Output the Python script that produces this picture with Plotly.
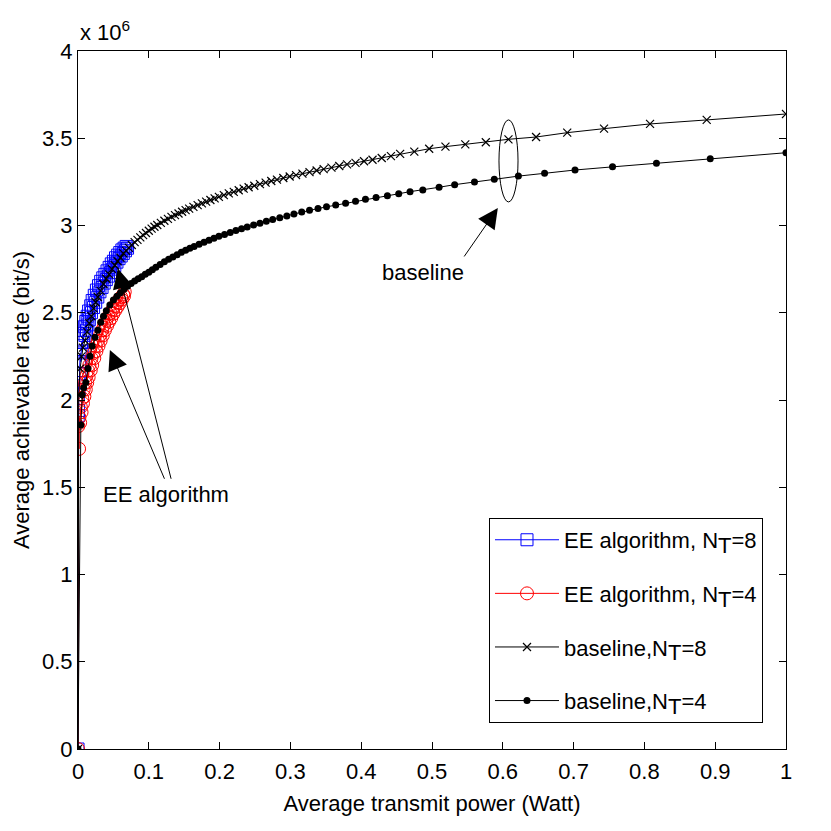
import plotly.graph_objects as go

# ---------------- data (rates in units of 1e6 bit/s) ----------------
ee8_power = [0, 0.0003, 0.0005, 0.0008, 0.001, 0.0015, 0.002, 0.0025, 0.003, 0.004, 0.005, 0.006,
             0.007, 0.008, 0.009, 0.010, 0.011, 0.012, 0.013, 0.014, 0.015, 0.016, 0.018, 0.019,
             0.020, 0.022, 0.023, 0.025, 0.026, 0.028, 0.029, 0.031, 0.032, 0.034, 0.035, 0.037,
             0.038, 0.040, 0.041, 0.043, 0.044, 0.046, 0.047, 0.049, 0.050, 0.052, 0.053, 0.055,
             0.056, 0.058, 0.059, 0.061, 0.062, 0.064, 0.065, 0.067, 0.068, 0.070]
ee8_rate = [0, 1.91, 2.03, 1.94, 2.10, 2.06, 2.22, 2.15, 2.27, 2.22, 2.33, 2.28,
            2.38, 2.33, 2.42, 2.37, 2.45, 2.40, 2.48, 2.43, 2.51, 2.46, 2.54, 2.50,
            2.57, 2.53, 2.60, 2.56, 2.63, 2.59, 2.655, 2.62, 2.68, 2.645, 2.70, 2.67,
            2.72, 2.69, 2.74, 2.71, 2.76, 2.73, 2.78, 2.75, 2.795, 2.77, 2.815, 2.79,
            2.83, 2.81, 2.845, 2.825, 2.86, 2.84, 2.87, 2.855, 2.88, 2.87]

ee4_power = [0, 0.0005, 0.0015, 0.002, 0.003, 0.004, 0.005, 0.006, 0.007, 0.008, 0.009, 0.010,
             0.011, 0.012, 0.013, 0.014, 0.015, 0.016, 0.018, 0.019, 0.020, 0.022, 0.023, 0.025,
             0.026, 0.028, 0.029, 0.031, 0.032, 0.034, 0.035, 0.037, 0.038, 0.040, 0.041, 0.043,
             0.044, 0.046, 0.047, 0.049, 0.050, 0.052, 0.053, 0.055, 0.056, 0.058, 0.059, 0.061,
             0.062, 0.064, 0.065, 0.066]
ee4_rate = [0, 1.85, 1.72, 1.90, 1.87, 1.96, 1.93, 2.01, 1.98, 2.06, 2.02, 2.10,
            2.06, 2.14, 2.10, 2.17, 2.13, 2.20, 2.17, 2.24, 2.20, 2.27, 2.24, 2.31,
            2.28, 2.34, 2.31, 2.37, 2.34, 2.40, 2.37, 2.43, 2.40, 2.455, 2.425, 2.48,
            2.45, 2.50, 2.47, 2.52, 2.495, 2.54, 2.515, 2.56, 2.535, 2.575, 2.555, 2.59,
            2.575, 2.605, 2.595, 2.62]

base8_power = [0, 0.001, 0.003, 0.005, 0.007, 0.010, 0.013, 0.016, 0.019, 0.022, 0.025, 0.028,
               0.032, 0.036, 0.040, 0.044, 0.048, 0.052, 0.056, 0.060, 0.064, 0.068, 0.072, 0.076,
               0.080, 0.084, 0.088, 0.092, 0.096, 0.100, 0.104, 0.108, 0.112, 0.117, 0.122, 0.127,
               0.132, 0.137, 0.142, 0.147, 0.152, 0.157, 0.163, 0.169, 0.175, 0.181, 0.187, 0.193,
               0.199, 0.206, 0.213, 0.220, 0.227, 0.234, 0.241, 0.249, 0.257, 0.265, 0.273, 0.281,
               0.290, 0.299, 0.308, 0.317, 0.327, 0.337, 0.347, 0.358, 0.369, 0.380, 0.392, 0.404,
               0.416, 0.429, 0.442, 0.455, 0.475, 0.496, 0.519, 0.547, 0.576, 0.608, 0.647, 0.691,
               0.743, 0.808, 0.888, 1.0]
base8_rate = [0, 2.03, 2.18, 2.25, 2.30, 2.34, 2.39, 2.44, 2.48, 2.525, 2.56, 2.59,
              2.625, 2.665, 2.695, 2.72, 2.75, 2.772, 2.795, 2.815, 2.84, 2.855, 2.872, 2.888,
              2.905, 2.918, 2.932, 2.945, 2.957, 2.97, 2.982, 2.993, 3.003, 3.015, 3.027, 3.038,
              3.049, 3.059, 3.069, 3.079, 3.088, 3.097, 3.107, 3.117, 3.127, 3.137, 3.146, 3.155,
              3.164, 3.174, 3.184, 3.193, 3.202, 3.211, 3.219, 3.228, 3.237, 3.246, 3.255, 3.263,
              3.272, 3.281, 3.289, 3.297, 3.306, 3.315, 3.323, 3.332, 3.341, 3.35, 3.359, 3.368,
              3.377, 3.387, 3.398, 3.41, 3.423, 3.44, 3.452, 3.465, 3.477, 3.494, 3.507, 3.532,
              3.555, 3.582, 3.605, 3.639]

base4_power = [0, 0.004, 0.006, 0.008, 0.011, 0.014, 0.017, 0.020, 0.024, 0.028, 0.032, 0.036,
               0.040, 0.045, 0.050, 0.055, 0.060, 0.065, 0.070, 0.075, 0.080, 0.085, 0.090, 0.095,
               0.100, 0.105, 0.110, 0.116, 0.122, 0.128, 0.134, 0.140, 0.146, 0.152, 0.158, 0.164,
               0.171, 0.178, 0.185, 0.192, 0.199, 0.207, 0.215, 0.223, 0.231, 0.239, 0.248, 0.257,
               0.266, 0.275, 0.285, 0.295, 0.305, 0.316, 0.327, 0.339, 0.351, 0.364, 0.378, 0.392,
               0.406, 0.421, 0.437, 0.453, 0.469, 0.487, 0.510, 0.532, 0.560, 0.588, 0.622, 0.659,
               0.702, 0.755, 0.817, 0.893, 1.0]
base4_rate = [0, 1.857, 2.03, 2.07, 2.10, 2.18, 2.25, 2.31, 2.36, 2.40, 2.445, 2.48,
              2.512, 2.545, 2.573, 2.595, 2.615, 2.635, 2.652, 2.668, 2.682, 2.695, 2.707, 2.72,
              2.732, 2.747, 2.761, 2.777, 2.792, 2.806, 2.82, 2.833, 2.846, 2.858, 2.869, 2.88,
              2.892, 2.904, 2.916, 2.927, 2.938, 2.949, 2.96, 2.971, 2.981, 2.992, 3.003, 3.013,
              3.024, 3.034, 3.045, 3.055, 3.066, 3.077, 3.087, 3.097, 3.107, 3.117, 3.128, 3.139,
              3.15, 3.161, 3.171, 3.182, 3.194, 3.204, 3.219, 3.234, 3.25, 3.265, 3.283, 3.299,
              3.318, 3.336, 3.357, 3.382, 3.417]

x_ticks = [0, 0.1, 0.2, 0.3, 0.4, 0.5, 0.6, 0.7, 0.8, 0.9, 1]
x_tick_labels = ['0', '0.1', '0.2', '0.3', '0.4', '0.5', '0.6', '0.7', '0.8', '0.9', '1']
y_ticks = [0, 0.5e6, 1e6, 1.5e6, 2e6, 2.5e6, 3e6, 3.5e6, 4e6]
y_tick_labels = ['0', '0.5', '1', '1.5', '2', '2.5', '3', '3.5', '4']

SCALE = 1e6
FONT = "Liberation Sans, Arial, sans-serif"
FS = 22

def sc(v):
    return [a * SCALE for a in v]

def nt(k):
    return 'N<sub><span style="font-size:%dpx">T</span></sub>=%s' % (FS, k)

fig = go.Figure()
fig.add_trace(go.Scatter(x=ee8_power, y=sc(ee8_rate), mode='lines+markers',
                         name='EE algorithm, ' + nt('8'), legendgroup='a',
                         line=dict(color='#0000ff', width=1),
                         marker=dict(symbol='square-open', size=12, color='#0000ff', line=dict(width=1))))
fig.add_trace(go.Scatter(x=ee4_power, y=sc(ee4_rate), mode='lines+markers',
                         name='EE algorithm, ' + nt('4'), legendgroup='b',
                         line=dict(color='#ff0000', width=1),
                         marker=dict(symbol='circle-open', size=13, color='#ff0000', line=dict(width=1))))
fig.add_trace(go.Scatter(x=base8_power, y=sc(base8_rate), mode='lines+markers',
                         name='baseline,' + nt('8'), legendgroup='c',
                         line=dict(color='black', width=1),
                         marker=dict(symbol='x-thin-open', size=8, color='black', line=dict(width=1.2, color='black'))))
fig.add_trace(go.Scatter(x=base4_power, y=sc(base4_rate), mode='lines+markers',
                         name='baseline,' + nt('4'), legendgroup='d',
                         line=dict(color='black', width=1),
                         marker=dict(symbol='circle', size=7, color='black')))

axis_common = dict(showline=True, linecolor='black', linewidth=1, mirror='ticks',
                   ticks='inside', ticklen=7, tickcolor='black', showgrid=False, zeroline=False,
                   tickfont=dict(family=FONT, size=FS, color='black'))

fig.update_xaxes(range=[0, 1], tickvals=x_ticks, ticktext=x_tick_labels, ticklabelstandoff=3,
                 title=dict(text='Average transmit power (Watt)', font=dict(family=FONT, size=FS, color='black'), standoff=12),
                 **axis_common)
fig.update_yaxes(range=[0, 4e6], tickvals=y_ticks, ticktext=y_tick_labels,
                 title=dict(text='Average achievable rate (bit/s)', font=dict(family=FONT, size=FS, color='black'), standoff=6),
                 **axis_common)

# ellipse around baseline curves
fig.add_shape(type='circle', xref='x', yref='y', x0=0.5946, x1=0.6215, y0=3.135e6, y1=3.605e6,
              line=dict(color='black', width=1))

ann_font = dict(family=FONT, size=FS, color='black')
fig.add_annotation(x=0.593, y=3.10e6, xref='x', yref='y', ax=0.544, ay=2.814e6, axref='x', ayref='y',
                   showarrow=True, arrowhead=2, arrowsize=4, arrowwidth=1, arrowcolor='black', text='')
fig.add_annotation(x=0.487, y=2.728e6, xref='x', yref='y', text='baseline', showarrow=False, font=ann_font)
fig.add_annotation(x=0.045, y=2.287e6, xref='x', yref='y', ax=0.123, ay=1.54e6, axref='x', ayref='y',
                   showarrow=True, arrowhead=2, arrowsize=4, arrowwidth=1, arrowcolor='black', text='')
fig.add_annotation(x=0.0563, y=2.754e6, xref='x', yref='y', ax=0.132, ay=1.54e6, axref='x', ayref='y',
                   showarrow=True, arrowhead=2, arrowsize=4, arrowwidth=1, arrowcolor='black', text='')
fig.add_annotation(x=0.124, y=1.456e6, xref='x', yref='y', text='EE algorithm', showarrow=False, font=ann_font)
fig.add_annotation(x=0, y=1.028, xref='paper', yref='paper', xanchor='left', yanchor='middle',
                   text='x 10<sup>6</sup>', showarrow=False, font=ann_font)

fig.update_layout(
    width=815, height=815,
    margin=dict(l=70, r=37, t=43, b=74),
    paper_bgcolor='white', plot_bgcolor='white',
    font=dict(family=FONT, size=FS, color='black'),
    showlegend=True,
    legend=dict(x=0.5805, y=0.331, xanchor='left', yanchor='top',
                bgcolor='white', bordercolor='black', borderwidth=1,
                font=dict(family=FONT, size=FS, color='black'),
                tracegroupgap=22, itemwidth=64),
)

fig.write_html("out.html")
